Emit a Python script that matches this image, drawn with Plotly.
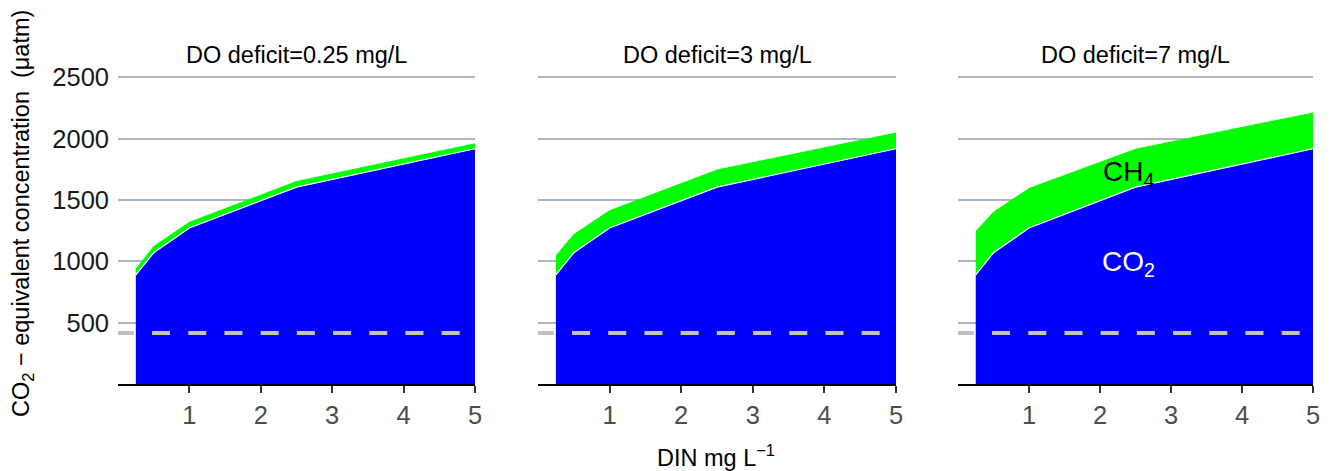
import plotly.graph_objects as go

# ---- data ----
din = [0.25, 0.5, 1, 2.5, 5]
co2 = [890, 1070, 1272, 1605, 1918]
ch4_by_panel = {
    "DO deficit=0.25 mg/L": [52, 55, 50, 50, 44],
    "DO deficit=3 mg/L": [160, 152, 144, 143, 133],
    "DO deficit=7 mg/L": [357, 334, 326, 313, 296],
}
panel_titles = list(ch4_by_panel.keys())
atm_co2 = 415
xticks = [1, 2, 3, 4, 5]
yticks = [500, 1000, 1500, 2000, 2500]

FONT = "Liberation Sans, Arial, sans-serif"
W, H = 1333, 471
ML, MR, MT, MB = 118, 20, 70, 87
plot_w = W - ML - MR
plot_h = H - MT - MB

# panel pixel extents
panel_px = [(118, 475), (538, 896), (958, 1313)]
domains = [((a - ML) / plot_w, (b - ML) / plot_w) for a, b in panel_px]

fig = go.Figure()
for i, title in enumerate(panel_titles):
    xa = "x" if i == 0 else f"x{i+1}"
    ya = "y" if i == 0 else f"y{i+1}"
    fig.add_trace(go.Scatter(
        x=din, y=co2, xaxis=xa, yaxis=ya, stackgroup=f"s{i}", mode="lines",
        line=dict(color="white", width=1.2), fillcolor="#0000FF",
        showlegend=False, hoverinfo="skip"))
    fig.add_trace(go.Scatter(
        x=din, y=ch4_by_panel[title], xaxis=xa, yaxis=ya, stackgroup=f"s{i}", mode="lines",
        line=dict(color="white", width=0), fillcolor="#00FF00",
        showlegend=False, hoverinfo="skip"))
    fig.add_trace(go.Scatter(
        x=[-0.03, 5], y=[atm_co2, atm_co2], xaxis=xa, yaxis=ya, mode="lines",
        line=dict(color="#c2c2c2", width=4, dash="18px,18.2px"),
        showlegend=False, hoverinfo="skip"))

layout = dict(
    width=W, height=H,
    margin=dict(l=ML, r=MR, t=MT, b=MB, pad=0),
    paper_bgcolor="white", plot_bgcolor="white",
    font=dict(family=FONT, color="black"),
    showlegend=False,
)
for i in range(3):
    xk = "xaxis" if i == 0 else f"xaxis{i+1}"
    yk = "yaxis" if i == 0 else f"yaxis{i+1}"
    layout[xk] = dict(
        domain=list(domains[i]), range=[0, 5], anchor="y" if i == 0 else f"y{i+1}",
        tickvals=xticks, ticks="outside", ticklen=7, tickwidth=2, tickcolor="#333333",
        showline=True, linecolor="black", linewidth=2, showgrid=False, zeroline=False,
        tickfont=dict(size=25.5, color="#4d4d4d", family=FONT),
    )
    layout[yk] = dict(
        domain=[0, 1], range=[0, 2560], anchor="x" if i == 0 else f"x{i+1}",
        tickvals=yticks, showgrid=True, gridcolor="#a9b7c1", gridwidth=1.5,
        showline=False, zeroline=False, ticks="",
        showticklabels=(i == 0), ticklabelstandoff=8,
        tickfont=dict(size=25.5, color="#1a1a1a", family=FONT),
    )
fig.update_layout(**layout)

ann = []
for i, title in enumerate(panel_titles):
    d0, d1 = domains[i]
    ann.append(dict(text=title, x=(d0 + d1) / 2, y=(384 - 55) / plot_h, xref="paper", yref="paper",
                    showarrow=False, xanchor="center", yanchor="middle",
                    font=dict(size=23.5, color="black", family=FONT)))
ann.append(dict(text="DIN mg L<sup>\u22121</sup>", x=(716 - ML) / plot_w, y=(384 - 456) / plot_h,
                xref="paper", yref="paper", showarrow=False, xanchor="center", yanchor="middle",
                font=dict(size=23.5, color="black", family=FONT)))
ann.append(dict(text="CO<sub>2</sub> \u2212 equivalent concentration  (\u03bcatm)",
                x=(22 - ML) / plot_w, y=(384 - 214) / plot_h, xref="paper", yref="paper",
                showarrow=False, xanchor="center", yanchor="middle", textangle=-90,
                font=dict(size=23.5, color="black", family=FONT)))
ann.append(dict(text="CH<sub>4</sub>", x=2.4, y=1720, xref="x3", yref="y3", showarrow=False,
                xanchor="center", yanchor="middle", font=dict(size=28, color="black", family=FONT)))
ann.append(dict(text="CO<sub>2</sub>", x=2.4, y=980, xref="x3", yref="y3", showarrow=False,
                xanchor="center", yanchor="middle", font=dict(size=28, color="white", family=FONT)))
fig.update_layout(annotations=ann)

fig.write_html("out.html")
